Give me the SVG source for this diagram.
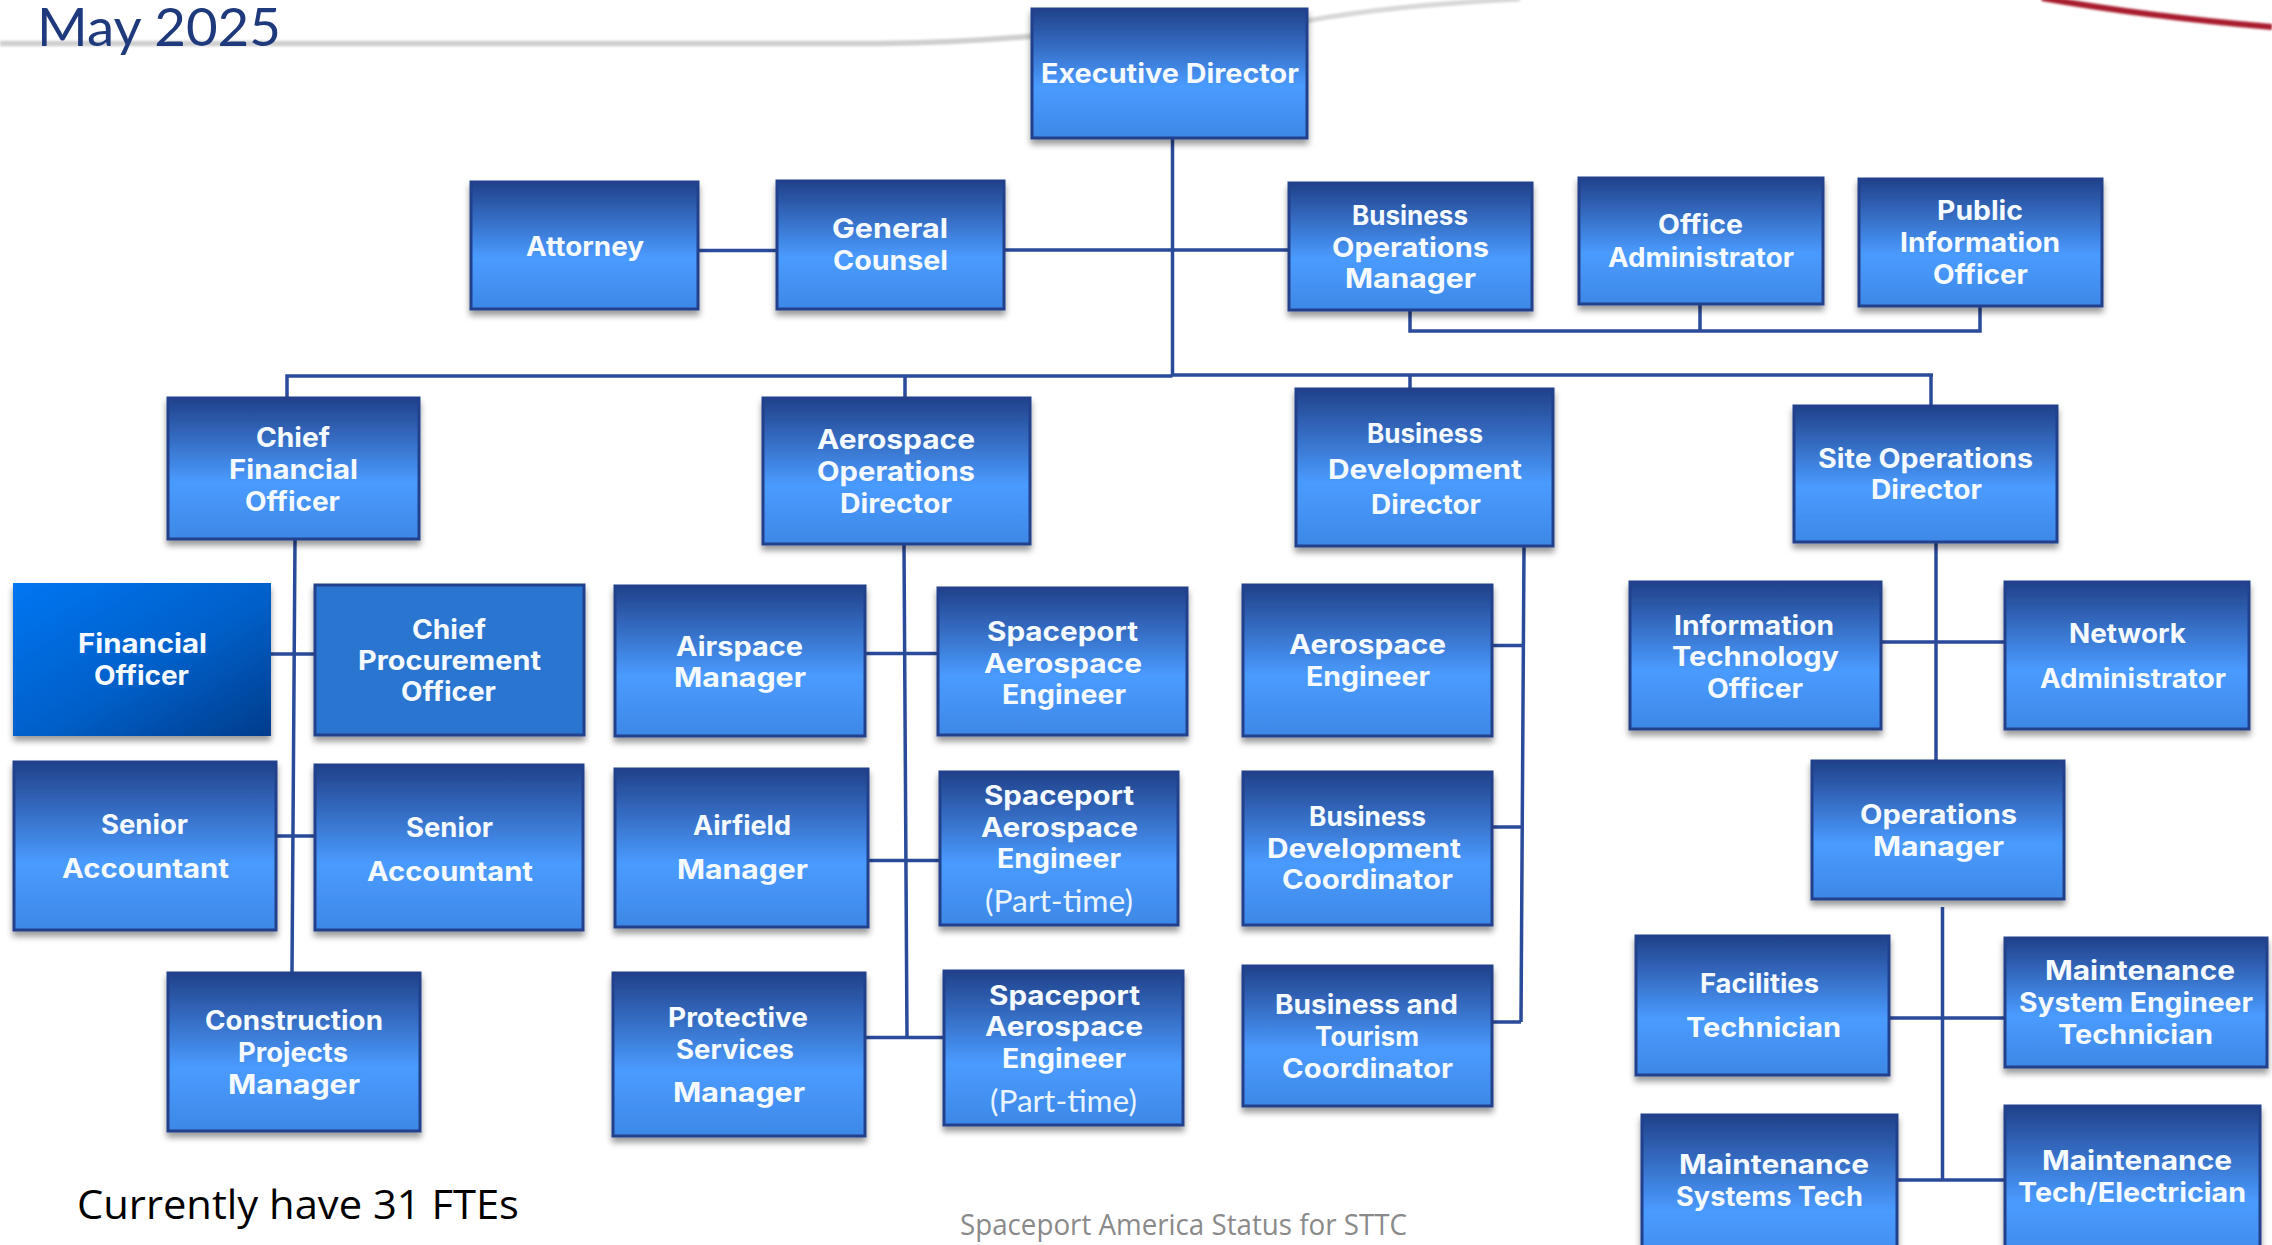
<svg xmlns="http://www.w3.org/2000/svg" width="2272" height="1245" viewBox="0 0 2272 1245">
<style>
.b{fill:url(#g);stroke:#22408c;stroke-width:3;filter:url(#s)}
.c{fill:none;stroke:#2a4a9a;stroke-width:3.5}
.t{font-family:Inter,"Open Sans",sans-serif;font-weight:700;font-size:26.500px;fill:#f4faff}
.p{font-family:Lato,"Open Sans",sans-serif;font-weight:400;font-size:30px;fill:#e8f3ff}
</style>
<defs>
<linearGradient id="g" x1="0" y1="0" x2="0" y2="1"><stop offset="0" stop-color="#21418a"/><stop offset=".6" stop-color="#4a9bff"/><stop offset="1" stop-color="#3d88e6"/></linearGradient>
<linearGradient id="f" x1="0" y1="0" x2="1" y2="1"><stop offset="0" stop-color="#0076f2"/><stop offset=".55" stop-color="#005fc8"/><stop offset="1" stop-color="#003c8c"/></linearGradient>
<filter id="s" x="-5%" y="-5%" width="110%" height="115%"><feDropShadow dx="0" dy="5" stdDeviation="3" flood-color="#000" flood-opacity=".4"/></filter>
<filter id="bl"><feGaussianBlur stdDeviation="1.2"/></filter>
</defs>
<rect width="2272" height="1245" fill="#fff"/>
<g id="background" filter="url(#bl)">
<path d="M0 43.500H880C940 43 990 40 1035 36" fill="none" stroke="#cfcfcf" stroke-width="5.500"/>
<path d="M1306 21C1370 9 1440 3 1520 -1" fill="none" stroke="#d8d8d8" stroke-width="5"/>
<path d="M2042 -2C2110 10 2190 20 2272 27" fill="none" stroke="#a81f2e" stroke-width="6"/>
</g>
<text id="date" x="37" y="46" font-family="Lato,'Open Sans',sans-serif" font-weight="400" font-size="52" fill="#1f3a7c" textLength="244" lengthAdjust="spacingAndGlyphs">May 2025</text>
<g id="connectors" class="c">
<path d="M1172.500 139V376"/>
<path d="M287 397V376H1172.500M1172.500 375H1933M905 376V397M1410 375V388M1931 375V405"/>
<path d="M699 250.500H776M1005 250H1288"/>
<path d="M1410 311V331H1980V307M1700 305V331"/>
<path d="M295 540L292 972M271 654H314M277 836H314"/>
<path d="M904 545L907 1037.500M866 653.500H937M869 860.500H939M866 1037.500H943"/>
<path d="M1524 547L1521 1022M1493 645.500H1523M1493 827H1522M1493 1022H1521"/>
<path d="M1936 543V760M1882 642H2004"/>
<path d="M1942.500 907V1180M1890 1018H2004M1898 1180H2004"/>
</g>
<g id="n-executive"><rect class="b" x="1032" y="9" width="275" height="129"/><text class="t" x="1041" y="83" textLength="258" lengthAdjust="spacingAndGlyphs">Executive Director</text></g>
<g id="n-attorney"><rect class="b" x="471" y="182" width="227" height="127"/><text class="t" x="526" y="256" textLength="118" lengthAdjust="spacingAndGlyphs">Attorney</text></g>
<g id="n-counsel"><rect class="b" x="777" y="181" width="227" height="128"/><text class="t" x="832" y="238" textLength="116" lengthAdjust="spacingAndGlyphs">General</text><text class="t" x="833" y="270" textLength="115" lengthAdjust="spacingAndGlyphs">Counsel</text></g>
<g id="n-bizops"><rect class="b" x="1289" y="183" width="243" height="127"/><text class="t" x="1352" y="225" textLength="116" lengthAdjust="spacingAndGlyphs">Business</text><text class="t" x="1332" y="257" textLength="157" lengthAdjust="spacingAndGlyphs">Operations</text><text class="t" x="1345" y="288" textLength="131" lengthAdjust="spacingAndGlyphs">Manager</text></g>
<g id="n-office"><rect class="b" x="1579" y="178" width="244" height="126"/><text class="t" x="1658" y="234" textLength="85" lengthAdjust="spacingAndGlyphs">Office</text><text class="t" x="1608" y="267" textLength="186" lengthAdjust="spacingAndGlyphs">Administrator</text></g>
<g id="n-public"><rect class="b" x="1859" y="179" width="243" height="127"/><text class="t" x="1937" y="220" textLength="86" lengthAdjust="spacingAndGlyphs">Public</text><text class="t" x="1900" y="252" textLength="160" lengthAdjust="spacingAndGlyphs">Information</text><text class="t" x="1933" y="284" textLength="95" lengthAdjust="spacingAndGlyphs">Officer</text></g>
<g id="n-cfo"><rect class="b" x="168" y="398" width="251" height="141"/><text class="t" x="256" y="447" textLength="74" lengthAdjust="spacingAndGlyphs">Chief</text><text class="t" x="229" y="479" textLength="129" lengthAdjust="spacingAndGlyphs">Financial</text><text class="t" x="245" y="511" textLength="95" lengthAdjust="spacingAndGlyphs">Officer</text></g>
<g id="n-aeroops"><rect class="b" x="763" y="398" width="267" height="146"/><text class="t" x="817" y="449" textLength="158" lengthAdjust="spacingAndGlyphs">Aerospace</text><text class="t" x="817" y="481" textLength="158" lengthAdjust="spacingAndGlyphs">Operations</text><text class="t" x="840" y="513" textLength="112" lengthAdjust="spacingAndGlyphs">Director</text></g>
<g id="n-bizdev"><rect class="b" x="1296" y="389" width="257" height="157"/><text class="t" x="1367" y="443" textLength="116" lengthAdjust="spacingAndGlyphs">Business</text><text class="t" x="1328" y="479" textLength="194" lengthAdjust="spacingAndGlyphs">Development</text><text class="t" x="1371" y="514" textLength="110" lengthAdjust="spacingAndGlyphs">Director</text></g>
<g id="n-siteops"><rect class="b" x="1794" y="406" width="263" height="136"/><text class="t" x="1818" y="468" textLength="215" lengthAdjust="spacingAndGlyphs">Site Operations</text><text class="t" x="1871" y="499" textLength="111" lengthAdjust="spacingAndGlyphs">Director</text></g>
<g id="n-financial"><rect x="13" y="583" width="258" height="153" fill="url(#f)" filter="url(#s)"/><text class="t" x="78" y="653" textLength="129" lengthAdjust="spacingAndGlyphs">Financial</text><text class="t" x="94" y="685" textLength="95" lengthAdjust="spacingAndGlyphs">Officer</text></g>
<g id="n-procurement"><rect class="b" style="fill:#2b74d0" x="315" y="585" width="269" height="150"/><text class="t" x="412" y="639" textLength="74" lengthAdjust="spacingAndGlyphs">Chief</text><text class="t" x="358" y="670" textLength="183" lengthAdjust="spacingAndGlyphs">Procurement</text><text class="t" x="401" y="701" textLength="95" lengthAdjust="spacingAndGlyphs">Officer</text></g>
<g id="n-airspace"><rect class="b" x="615" y="586" width="250" height="150"/><text class="t" x="676" y="656" textLength="127" lengthAdjust="spacingAndGlyphs">Airspace</text><text class="t" x="674" y="687" textLength="132" lengthAdjust="spacingAndGlyphs">Manager</text></g>
<g id="n-spaceport1"><rect class="b" x="938" y="588" width="249" height="147"/><text class="t" x="987" y="641" textLength="151" lengthAdjust="spacingAndGlyphs">Spaceport</text><text class="t" x="984" y="673" textLength="158" lengthAdjust="spacingAndGlyphs">Aerospace</text><text class="t" x="1002" y="704" textLength="124" lengthAdjust="spacingAndGlyphs">Engineer</text></g>
<g id="n-aeroeng"><rect class="b" x="1243" y="585" width="249" height="151"/><text class="t" x="1289" y="654" textLength="157" lengthAdjust="spacingAndGlyphs">Aerospace</text><text class="t" x="1306" y="686" textLength="124" lengthAdjust="spacingAndGlyphs">Engineer</text></g>
<g id="n-it"><rect class="b" x="1630" y="582" width="251" height="147"/><text class="t" x="1674" y="635" textLength="160" lengthAdjust="spacingAndGlyphs">Information</text><text class="t" x="1672" y="666" textLength="167" lengthAdjust="spacingAndGlyphs">Technology</text><text class="t" x="1707" y="698" textLength="96" lengthAdjust="spacingAndGlyphs">Officer</text></g>
<g id="n-network"><rect class="b" x="2005" y="582" width="244" height="147"/><text class="t" x="2069" y="643" textLength="117" lengthAdjust="spacingAndGlyphs">Network</text><text class="t" x="2040" y="688" textLength="186" lengthAdjust="spacingAndGlyphs">Administrator</text></g>
<g id="n-senior1"><rect class="b" x="14" y="762" width="262" height="168"/><text class="t" x="101" y="834" textLength="87" lengthAdjust="spacingAndGlyphs">Senior</text><text class="t" x="62" y="878" textLength="167" lengthAdjust="spacingAndGlyphs">Accountant</text></g>
<g id="n-senior2"><rect class="b" x="315" y="765" width="268" height="165"/><text class="t" x="406" y="837" textLength="87" lengthAdjust="spacingAndGlyphs">Senior</text><text class="t" x="367" y="881" textLength="166" lengthAdjust="spacingAndGlyphs">Accountant</text></g>
<g id="n-airfield"><rect class="b" x="615" y="769" width="253" height="158"/><text class="t" x="693" y="835" textLength="98" lengthAdjust="spacingAndGlyphs">Airfield</text><text class="t" x="677" y="879" textLength="131" lengthAdjust="spacingAndGlyphs">Manager</text></g>
<g id="n-spaceport2"><rect class="b" x="940" y="772" width="238" height="153"/><text class="t" x="984" y="805" textLength="150" lengthAdjust="spacingAndGlyphs">Spaceport</text><text class="t" x="981" y="837" textLength="157" lengthAdjust="spacingAndGlyphs">Aerospace</text><text class="t" x="997" y="868" textLength="124" lengthAdjust="spacingAndGlyphs">Engineer</text><text class="p" x="985" y="912" textLength="148" lengthAdjust="spacingAndGlyphs">(Part-time)</text></g>
<g id="n-bdc"><rect class="b" x="1243" y="772" width="249" height="153"/><text class="t" x="1309" y="826" textLength="117" lengthAdjust="spacingAndGlyphs">Business</text><text class="t" x="1267" y="858" textLength="194" lengthAdjust="spacingAndGlyphs">Development</text><text class="t" x="1282" y="889" textLength="171" lengthAdjust="spacingAndGlyphs">Coordinator</text></g>
<g id="n-opsmgr"><rect class="b" x="1812" y="761" width="252" height="138"/><text class="t" x="1860" y="824" textLength="157" lengthAdjust="spacingAndGlyphs">Operations</text><text class="t" x="1873" y="856" textLength="131" lengthAdjust="spacingAndGlyphs">Manager</text></g>
<g id="n-facilities"><rect class="b" x="1636" y="936" width="253" height="139"/><text class="t" x="1700" y="993" textLength="119" lengthAdjust="spacingAndGlyphs">Facilities</text><text class="t" x="1686" y="1037" textLength="155" lengthAdjust="spacingAndGlyphs">Technician</text></g>
<g id="n-mset"><rect class="b" x="2005" y="938" width="262" height="129"/><text class="t" x="2045" y="980" textLength="190" lengthAdjust="spacingAndGlyphs">Maintenance</text><text class="t" x="2019" y="1012" textLength="234" lengthAdjust="spacingAndGlyphs">System Engineer</text><text class="t" x="2058" y="1044" textLength="155" lengthAdjust="spacingAndGlyphs">Technician</text></g>
<g id="n-btc"><rect class="b" x="1243" y="966" width="249" height="140"/><text class="t" x="1275" y="1014" textLength="183" lengthAdjust="spacingAndGlyphs">Business and</text><text class="t" x="1315" y="1046" textLength="104" lengthAdjust="spacingAndGlyphs">Tourism</text><text class="t" x="1282" y="1078" textLength="171" lengthAdjust="spacingAndGlyphs">Coordinator</text></g>
<g id="n-construction"><rect class="b" x="168" y="973" width="252" height="158"/><text class="t" x="205" y="1030" textLength="178" lengthAdjust="spacingAndGlyphs">Construction</text><text class="t" x="238" y="1062" textLength="110" lengthAdjust="spacingAndGlyphs">Projects</text><text class="t" x="228" y="1094" textLength="132" lengthAdjust="spacingAndGlyphs">Manager</text></g>
<g id="n-protective"><rect class="b" x="613" y="973" width="252" height="163"/><text class="t" x="668" y="1027" textLength="140" lengthAdjust="spacingAndGlyphs">Protective</text><text class="t" x="676" y="1059" textLength="118" lengthAdjust="spacingAndGlyphs">Services</text><text class="t" x="673" y="1102" textLength="132" lengthAdjust="spacingAndGlyphs">Manager</text></g>
<g id="n-spaceport3"><rect class="b" x="944" y="971" width="239" height="154"/><text class="t" x="989" y="1005" textLength="151" lengthAdjust="spacingAndGlyphs">Spaceport</text><text class="t" x="985" y="1036" textLength="158" lengthAdjust="spacingAndGlyphs">Aerospace</text><text class="t" x="1002" y="1068" textLength="124" lengthAdjust="spacingAndGlyphs">Engineer</text><text class="p" x="990" y="1112" textLength="147" lengthAdjust="spacingAndGlyphs">(Part-time)</text></g>
<g id="n-mtech"><rect class="b" x="2005" y="1106" width="255" height="160"/><text class="t" x="2042" y="1170" textLength="190" lengthAdjust="spacingAndGlyphs">Maintenance</text><text class="t" x="2018" y="1202" textLength="228" lengthAdjust="spacingAndGlyphs">Tech/Electrician</text></g>
<g id="n-msystems"><rect class="b" x="1642" y="1115" width="255" height="160"/><text class="t" x="1679" y="1174" textLength="190" lengthAdjust="spacingAndGlyphs">Maintenance</text><text class="t" x="1676" y="1206" textLength="187" lengthAdjust="spacingAndGlyphs">Systems Tech</text></g>
<text id="fte" x="77" y="1219" font-family="'Open Sans','Noto Sans',sans-serif" font-size="41" fill="#000" textLength="442" lengthAdjust="spacingAndGlyphs">Currently have 31 FTEs</text>
<text id="footer" x="960" y="1235" font-family="'Open Sans','Noto Sans',sans-serif" font-size="30" fill="#8a8a8a" textLength="447" lengthAdjust="spacingAndGlyphs">Spaceport America Status for STTC</text>
</svg>
